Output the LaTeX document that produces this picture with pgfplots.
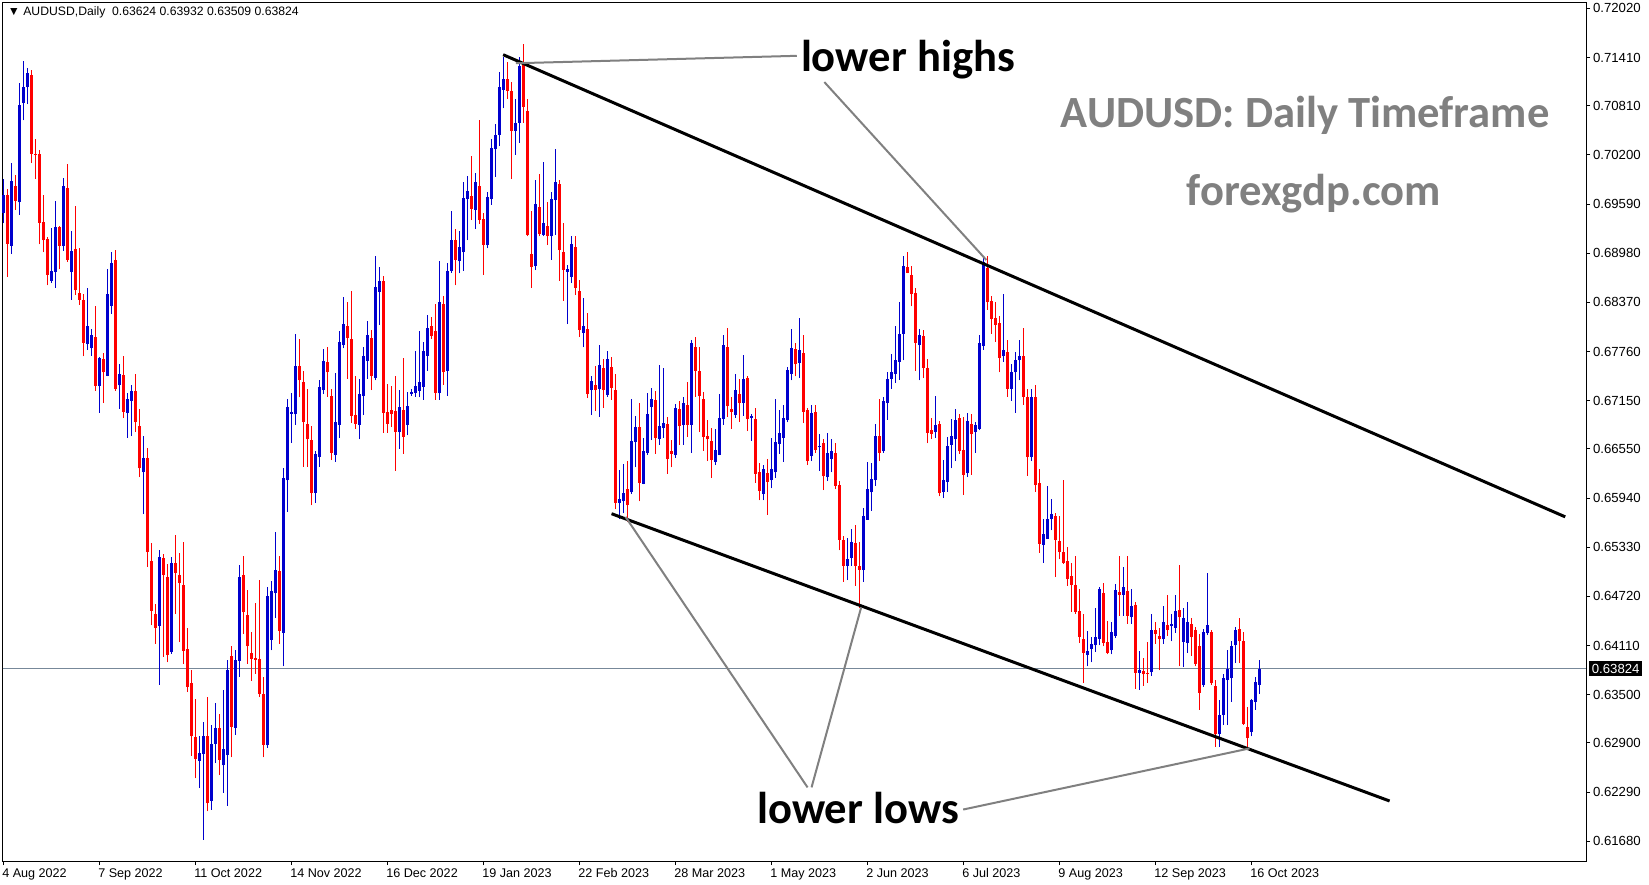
\documentclass[border=0pt]{standalone}
\usepackage{pgfplots}
\pgfplotsset{compat=1.18}
\usepackage{pgfplotstable}
\usepackage{fontspec}
\setmainfont{Liberation Sans}
\newfontfamily\carlito{Carlito}
\definecolor{bull}{RGB}{0,0,205}
\definecolor{bear}{RGB}{255,0,0}
\definecolor{pline}{RGB}{119,136,153}
\definecolor{note}{RGB}{128,128,128}

% daily candles: bar index, open, high, low, close
\pgfplotstableread{
k o h l c
0 0.6948 0.6990 0.6935 0.6970
1 0.6970 0.6978 0.6869 0.6910
2 0.6907 0.7010 0.6897 0.6988
3 0.6981 0.6995 0.6952 0.6963
4 0.6961 0.7109 0.6946 0.7082
5 0.7085 0.7137 0.7063 0.7104
6 0.7104 0.7128 0.7083 0.7122
7 0.7119 0.7125 0.7010 0.7021
8 0.7021 0.7040 0.6990 0.7020
9 0.7021 0.7026 0.6909 0.6936
10 0.6937 0.6970 0.6899 0.6914
11 0.6916 0.6918 0.6858 0.6871
12 0.6864 0.6929 0.6861 0.6876
13 0.6875 0.6963 0.6855 0.6930
14 0.6930 0.6932 0.6878 0.6907
15 0.6907 0.6991 0.6901 0.6981
16 0.6979 0.7009 0.6887 0.6890
17 0.6875 0.6925 0.6840 0.6901
18 0.6903 0.6957 0.6846 0.6852
19 0.6849 0.6904 0.6834 0.6840
20 0.6840 0.6847 0.6770 0.6787
21 0.6785 0.6855 0.6778 0.6808
22 0.6780 0.6804 0.6771 0.6797
23 0.6794 0.6832 0.6727 0.6733
24 0.6733 0.6769 0.6700 0.6768
25 0.6767 0.6774 0.6712 0.6750
26 0.6746 0.6878 0.6745 0.6847
27 0.6833 0.6900 0.6823 0.6886
28 0.6890 0.6902 0.6727 0.6730
29 0.6734 0.6760 0.6705 0.6748
30 0.6747 0.6770 0.6694 0.6701
31 0.6700 0.6724 0.6669 0.6717
32 0.6715 0.6734 0.6671 0.6727
33 0.6727 0.6748 0.6676 0.6688
34 0.6683 0.6705 0.6620 0.6631
35 0.6626 0.6671 0.6574 0.6644
36 0.6644 0.6656 0.6509 0.6527
37 0.6516 0.6538 0.6436 0.6454
38 0.6450 0.6463 0.6413 0.6433
39 0.6435 0.6530 0.6362 0.6521
40 0.6520 0.6524 0.6397 0.6499
41 0.6496 0.6512 0.6390 0.6399
42 0.6403 0.6521 0.6401 0.6514
43 0.6514 0.6548 0.6450 0.6501
44 0.6498 0.6526 0.6415 0.6489
45 0.6486 0.6540 0.6388 0.6404
46 0.6406 0.6433 0.6353 0.6360
47 0.6365 0.6381 0.6274 0.6298
48 0.6297 0.6345 0.6246 0.6270
49 0.6268 0.6298 0.6234 0.6277
50 0.6276 0.6316 0.6170 0.6298
51 0.6298 0.6347 0.6205 0.6215
52 0.6218 0.6312 0.6207 0.6289
53 0.6289 0.6340 0.6265 0.6309
54 0.6309 0.6326 0.6250 0.6269
55 0.6262 0.6356 0.6228 0.6283
56 0.6275 0.6393 0.6212 0.6380
57 0.6398 0.6410 0.6272 0.6310
58 0.6309 0.6405 0.6300 0.6393
59 0.6392 0.6511 0.6372 0.6496
60 0.6498 0.6522 0.6425 0.6452
61 0.6449 0.6480 0.6388 0.6410
62 0.6402 0.6428 0.6367 0.6394
63 0.6396 0.6464 0.6376 0.6393
64 0.6394 0.6492 0.6347 0.6351
65 0.6351 0.6372 0.6272 0.6288
66 0.6287 0.6483 0.6284 0.6473
67 0.6418 0.6491 0.6405 0.6479
68 0.6476 0.6552 0.6445 0.6505
69 0.6503 0.6522 0.6413 0.6429
70 0.6427 0.6631 0.6385 0.6619
71 0.6616 0.6717 0.6577 0.6707
72 0.6699 0.6725 0.6663 0.6701
73 0.6698 0.6798 0.6685 0.6758
74 0.6758 0.6792 0.6719 0.6740
75 0.6738 0.6752 0.6633 0.6688
76 0.6686 0.6730 0.6633 0.6667
77 0.6666 0.6684 0.6585 0.6600
78 0.6600 0.6652 0.6588 0.6649
79 0.6645 0.6740 0.6633 0.6732
80 0.6728 0.6779 0.6723 0.6764
81 0.6763 0.6782 0.6720 0.6750
82 0.6721 0.6730 0.6641 0.6650
83 0.6648 0.6749 0.6639 0.6688
84 0.6685 0.6802 0.6669 0.6788
85 0.6784 0.6844 0.6780 0.6810
86 0.6808 0.6837 0.6742 0.6793
87 0.6792 0.6851 0.6687 0.6696
88 0.6697 0.6745 0.6680 0.6686
89 0.6685 0.6742 0.6667 0.6723
90 0.6721 0.6782 0.6697 0.6770
91 0.6764 0.6814 0.6742 0.6796
92 0.6793 0.6803 0.6728 0.6746
93 0.6743 0.6894 0.6740 0.6856
94 0.6850 0.6881 0.6809 0.6863
95 0.6863 0.6870 0.6675 0.6700
96 0.6701 0.6736 0.6675 0.6686
97 0.6703 0.6733 0.6682 0.6698
98 0.6702 0.6745 0.6628 0.6676
99 0.6676 0.6728 0.6655 0.6707
100 0.6703 0.6768 0.6649 0.6670
101 0.6685 0.6726 0.6672 0.6708
102 0.6723 0.6730 0.6721 0.6726
103 0.6725 0.6777 0.6720 0.6733
104 0.6727 0.6801 0.6719 0.6738
105 0.6732 0.6788 0.6716 0.6777
106 0.6771 0.6821 0.6752 0.6805
107 0.6808 0.6819 0.6792 0.6795
108 0.6801 0.6835 0.6716 0.6725
109 0.6724 0.6888 0.6716 0.6838
110 0.6835 0.6845 0.6735 0.6750
111 0.6752 0.6886 0.6721 0.6876
112 0.6876 0.6950 0.6874 0.6914
113 0.6914 0.6928 0.6858 0.6890
114 0.6888 0.6926 0.6873 0.6906
115 0.6899 0.6986 0.6876 0.6967
116 0.6965 0.6994 0.6914 0.6975
117 0.6969 0.7019 0.6939 0.6953
118 0.6952 0.6998 0.6928 0.6986
119 0.6982 0.7064 0.6934 0.6939
120 0.6940 0.6948 0.6871 0.6908
121 0.6908 0.6974 0.6904 0.6968
122 0.6965 0.7040 0.6958 0.7029
123 0.7027 0.7059 0.6993 0.7045
124 0.7045 0.7123 0.7031 0.7104
125 0.7101 0.7142 0.7078 0.7114
126 0.7114 0.7136 0.7090 0.7100
127 0.7100 0.7110 0.6990 0.7050
128 0.7050 0.7090 0.7020 0.7060
129 0.7060 0.7142 0.7035 0.7130
130 0.7135 0.7158 0.7060 0.7080
131 0.7075 0.7090 0.6919 0.6921
132 0.6897 0.6950 0.6855 0.6881
133 0.6882 0.6989 0.6877 0.6959
134 0.6955 0.6996 0.6919 0.6922
135 0.6921 0.7011 0.6919 0.6935
136 0.6932 0.6961 0.6908 0.6919
137 0.6919 0.6974 0.6890 0.6965
138 0.6964 0.7028 0.6921 0.6986
139 0.6984 0.6989 0.6864 0.6902
140 0.6899 0.6935 0.6839 0.6877
141 0.6875 0.6884 0.6810 0.6878
142 0.6869 0.6920 0.6861 0.6909
143 0.6906 0.6920 0.6846 0.6855
144 0.6851 0.6865 0.6794 0.6803
145 0.6799 0.6843 0.6781 0.6808
146 0.6804 0.6824 0.6718 0.6723
147 0.6728 0.6745 0.6697 0.6739
148 0.6735 0.6758 0.6702 0.6728
149 0.6729 0.6784 0.6695 0.6759
150 0.6756 0.6767 0.6706 0.6728
151 0.6722 0.6776 0.6720 0.6767
152 0.6757 0.6769 0.6716 0.6731
153 0.6728 0.6748 0.6580 0.6588
154 0.6588 0.6629 0.6568 0.6593
155 0.6590 0.6636 0.6575 0.6600
156 0.6605 0.6640 0.6564 0.6585
157 0.6601 0.6717 0.6599 0.6665
158 0.6664 0.6696 0.6632 0.6682
159 0.6682 0.6712 0.6590 0.6613
160 0.6612 0.6669 0.6611 0.6652
161 0.6650 0.6725 0.6648 0.6698
162 0.6707 0.6731 0.6666 0.6717
163 0.6716 0.6727 0.6649 0.6669
164 0.6667 0.6759 0.6660 0.6683
165 0.6681 0.6755 0.6669 0.6687
166 0.6686 0.6695 0.6624 0.6642
167 0.6652 0.6666 0.6632 0.6649
168 0.6647 0.6711 0.6644 0.6706
169 0.6704 0.6714 0.6660 0.6683
170 0.6685 0.6719 0.6660 0.6712
171 0.6709 0.6738 0.6670 0.6685
172 0.6685 0.6790 0.6650 0.6787
173 0.6782 0.6794 0.6720 0.6752
174 0.6752 0.6781 0.6676 0.6721
175 0.6717 0.6726 0.6653 0.6670
176 0.6671 0.6691 0.6640 0.6667
177 0.6665 0.6681 0.6619 0.6641
178 0.6639 0.6680 0.6635 0.6654
179 0.6647 0.6723 0.6647 0.6694
180 0.6692 0.6796 0.6685 0.6784
181 0.6781 0.6805 0.6695 0.6708
182 0.6704 0.6720 0.6680 0.6701
183 0.6697 0.6748 0.6694 0.6728
184 0.6723 0.6742 0.6689 0.6712
185 0.6712 0.6772 0.6696 0.6742
186 0.6743 0.6746 0.6677 0.6692
187 0.6694 0.6698 0.6665 0.6695
188 0.6692 0.6706 0.6613 0.6624
189 0.6627 0.6638 0.6591 0.6603
190 0.6599 0.6635 0.6591 0.6630
191 0.6625 0.6642 0.6573 0.6614
192 0.6616 0.6668 0.6606 0.6630
193 0.6626 0.6717 0.6619 0.6664
194 0.6661 0.6703 0.6649 0.6675
195 0.6669 0.6710 0.6639 0.6694
196 0.6691 0.6757 0.6688 0.6753
197 0.6748 0.6804 0.6740 0.6780
198 0.6779 0.6787 0.6745 0.6760
199 0.6762 0.6818 0.6743 0.6778
200 0.6774 0.6796 0.6687 0.6701
201 0.6703 0.6706 0.6635 0.6640
202 0.6646 0.6709 0.6640 0.6700
203 0.6701 0.6709 0.6650 0.6654
204 0.6657 0.6673 0.6628 0.6659
205 0.6663 0.6667 0.6604 0.6621
206 0.6620 0.6675 0.6615 0.6650
207 0.6643 0.6667 0.6626 0.6652
208 0.6650 0.6663 0.6605 0.6609
209 0.6610 0.6615 0.6529 0.6542
210 0.6542 0.6547 0.6490 0.6510
211 0.6510 0.6545 0.6492 0.6518
212 0.6520 0.6555 0.6510 0.6540
213 0.6538 0.6560 0.6485 0.6510
214 0.6510 0.6539 0.6458 0.6505
215 0.6505 0.6582 0.6490 0.6572
216 0.6567 0.6639 0.6567 0.6605
217 0.6601 0.6638 0.6578 0.6618
218 0.6616 0.6686 0.6609 0.6671
219 0.6671 0.6717 0.6640 0.6650
220 0.6652 0.6719 0.6650 0.6714
221 0.6712 0.6750 0.6691 0.6742
222 0.6742 0.6773 0.6730 0.6750
223 0.6748 0.6808 0.6737 0.6765
224 0.6763 0.6837 0.6741 0.6798
225 0.6798 0.6894 0.6765 0.6882
226 0.6881 0.6899 0.6873 0.6874
227 0.6871 0.6882 0.6832 0.6847
228 0.6849 0.6855 0.6752 0.6787
229 0.6784 0.6804 0.6740 0.6796
230 0.6795 0.6803 0.6743 0.6756
231 0.6756 0.6767 0.6662 0.6675
232 0.6678 0.6693 0.6667 0.6674
233 0.6676 0.6721 0.6669 0.6685
234 0.6686 0.6690 0.6596 0.6600
235 0.6602 0.6641 0.6594 0.6617
236 0.6614 0.6670 0.6602 0.6659
237 0.6660 0.6692 0.6631 0.6671
238 0.6667 0.6705 0.6640 0.6691
239 0.6693 0.6699 0.6649 0.6652
240 0.6654 0.6695 0.6598 0.6623
241 0.6625 0.6700 0.6620 0.6690
242 0.6686 0.6699 0.6623 0.6673
243 0.6676 0.6688 0.6650 0.6685
244 0.6680 0.6796 0.6678 0.6787
245 0.6783 0.6895 0.6778 0.6887
246 0.6880 0.6894 0.6828 0.6837
247 0.6839 0.6845 0.6798 0.6816
248 0.6818 0.6837 0.6788 0.6809
249 0.6812 0.6820 0.6750 0.6768
250 0.6770 0.6847 0.6763 0.6778
251 0.6775 0.6790 0.6720 0.6730
252 0.6730 0.6760 0.6715 0.6750
253 0.6750 0.6775 0.6700 0.6765
254 0.6765 0.6790 0.6740 0.6770
255 0.6770 0.6805 0.6710 0.6720
256 0.6720 0.6730 0.6622 0.6645
257 0.6645 0.6730 0.6640 0.6720
258 0.6720 0.6735 0.6602 0.6610
259 0.6613 0.6630 0.6526 0.6537
260 0.6536 0.6568 0.6514 0.6550
261 0.6543 0.6609 0.6543 0.6568
262 0.6568 0.6593 0.6554 0.6574
263 0.6572 0.6576 0.6496 0.6542
264 0.6541 0.6572 0.6518 0.6527
265 0.6527 0.6616 0.6512 0.6514
266 0.6516 0.6533 0.6485 0.6493
267 0.6497 0.6513 0.6453 0.6486
268 0.6486 0.6522 0.6450 0.6453
269 0.6454 0.6481 0.6414 0.6422
270 0.6419 0.6450 0.6365 0.6402
271 0.6399 0.6429 0.6385 0.6404
272 0.6407 0.6422 0.6390 0.6413
273 0.6411 0.6457 0.6403 0.6422
274 0.6419 0.6483 0.6411 0.6481
275 0.6476 0.6488 0.6410 0.6414
276 0.6415 0.6442 0.6400 0.6402
277 0.6405 0.6440 0.6400 0.6428
278 0.6423 0.6487 0.6420 0.6480
279 0.6478 0.6522 0.6448 0.6474
280 0.6474 0.6509 0.6448 0.6483
281 0.6479 0.6522 0.6438 0.6448
282 0.6446 0.6481 0.6438 0.6460
283 0.6461 0.6465 0.6357 0.6377
284 0.6377 0.6404 0.6356 0.6381
285 0.6379 0.6396 0.6361 0.6375
286 0.6377 0.6415 0.6365 0.6376
287 0.6378 0.6450 0.6373 0.6430
288 0.6430 0.6440 0.6413 0.6425
289 0.6423 0.6433 0.6380 0.6419
290 0.6419 0.6460 0.6413 0.6440
291 0.6437 0.6474 0.6423 0.6430
292 0.6435 0.6450 0.6416 0.6438
293 0.6433 0.6474 0.6427 0.6454
294 0.6455 0.6511 0.6385 0.6446
295 0.6415 0.6458 0.6384 0.6445
296 0.6414 0.6465 0.6402 0.6440
297 0.6438 0.6445 0.6398 0.6421
298 0.6430 0.6434 0.6385 0.6388
299 0.6410 0.6425 0.6331 0.6352
300 0.6362 0.6432 0.6360 0.6428
301 0.6426 0.6501 0.6424 0.6436
302 0.6428 0.6430 0.6362 0.6364
303 0.6361 0.6368 0.6285 0.6301
304 0.6301 0.6343 0.6285 0.6325
305 0.6325 0.6376 0.6312 0.6370
306 0.6368 0.6405 0.6312 0.6382
307 0.6370 0.6416 0.6341 0.6410
308 0.6411 0.6434 0.6389 0.6430
309 0.6431 0.6445 0.6389 0.6416
310 0.6416 0.6428 0.6312 0.6314
311 0.6310 0.6335 0.6285 0.6296
312 0.6304 0.6344 0.6298 0.6343
313 0.6341 0.6372 0.6331 0.6366
314 0.63624 0.63932 0.63509 0.63824
}\candles

\begin{document}
\begin{tikzpicture}
\begin{axis}[
  scale only axis, width=791.75pt, height=429pt,
  xmin=-0.25, xmax=395.6, ymin=0.61434, ymax=0.72087,
  clip=false, scaled y ticks=false,
  axis line style={line width=0.5pt},
  tick align=outside, major tick length=2pt,
  tick style={black, line width=0.5pt},
  xtick pos=bottom, ytick pos=right, yticklabel pos=right,
  xtick={0,24,...,312},
  xticklabels={4 Aug 2022,7 Sep 2022,11 Oct 2022,14 Nov 2022,16 Dec 2022,19 Jan 2023,22 Feb 2023,28 Mar 2023,1 May 2023,2 Jun 2023,6 Jul 2023,9 Aug 2023,12 Sep 2023,16 Oct 2023},
  xticklabel style={font=\fontsize{6.3}{7}\selectfont, anchor=north west, inner sep=0pt, xshift=-0.8pt, yshift=-1.5pt},
  ytick={0.6168,0.6229,0.629,0.635,0.6411,0.6472,0.6533,0.6594,0.6655,0.6715,0.6776,0.6837,0.6898,0.6959,0.702,0.7081,0.7141,0.7202},
  yticklabels={0.61680,0.62290,0.62900,0.63500,0.64110,0.64720,0.65330,0.65940,0.66550,0.67150,0.67760,0.68370,0.68980,0.69590,0.70200,0.70810,0.71410,0.72020},
  yticklabel style={font=\fontsize{6.6}{7}\selectfont, anchor=west, inner sep=0pt, xshift=1.3pt},
  candle/.style={draw=none, mark=none, forget plot,
    error bars/y dir=plus, error bars/y explicit, error bars/error mark=none},
]
% price line
\addplot[pline, line width=0.5pt, forget plot] coordinates {(-0.25,0.63824) (395.6,0.63824)};

% bullish candles (close >= open)
\addplot[candle, restrict expr to domain={\thisrow{c}-\thisrow{o}}{0:1},
  error bars/error bar style={line width=0.5pt, draw=bull, solid}]
  table[x=k, y=l, y error expr=\thisrow{h}-\thisrow{l}] {\candles};
\addplot[candle, restrict expr to domain={\thisrow{c}-\thisrow{o}}{0:1},
  error bars/error bar style={line width=1.5pt, draw=bull, solid}]
  table[x=k, y=o, y error expr={max(\thisrow{c}-\thisrow{o},0.00013)}] {\candles};
% bearish candles
\addplot[candle, restrict expr to domain={\thisrow{c}-\thisrow{o}}{-1:-0.000001},
  error bars/error bar style={line width=0.5pt, draw=bear, solid}]
  table[x=k, y=l, y error expr=\thisrow{h}-\thisrow{l}] {\candles};
\addplot[candle, restrict expr to domain={\thisrow{c}-\thisrow{o}}{-1:-0.000001},
  error bars/error bar style={line width=1.5pt, draw=bear, solid}]
  table[x=k, y=c, y error expr={max(\thisrow{o}-\thisrow{c},0.00013)}] {\candles};

% trend channel
\addplot[black, line width=1.5pt] coordinates {(124.9,0.71445) (390.4,0.65707)};
\addplot[black, line width=1.5pt] coordinates {(152.0,0.65746) (346.5,0.62179)};
% pointer lines
\addplot[note, line width=1pt] coordinates {(128.1,0.71339) (198.3,0.71431)};
\addplot[note, line width=1pt] coordinates {(205.2,0.71105) (245.7,0.68896)};
\addplot[note, line width=1pt] coordinates {(155.5,0.65707) (201,0.62348)};
\addplot[note, line width=1pt] coordinates {(214.4,0.64583) (202,0.62348)};
\addplot[note, line width=1pt] coordinates {(311.5,0.62832) (239.9,0.62073)};

\node[font=\carlito\bfseries\fontsize{22.3}{26}\selectfont] at (axis cs:226.1,0.71379) {lower highs};
\node[font=\carlito\bfseries\fontsize{22.3}{26}\selectfont, text=note] at (axis cs:325.4,0.70686) {AUDUSD: Daily Timeframe};
\node[font=\carlito\bfseries\fontsize{22.3}{26}\selectfont, text=note] at (axis cs:327.6,0.69719) {forexgdp.com};
\node[font=\carlito\bfseries\fontsize{22.3}{26}\selectfont] at (axis cs:213.6,0.62087) {lower lows};

\node[anchor=west, inner sep=0pt, font=\fontsize{6.1}{7}\selectfont] at (axis cs:1,0.71968) {▼ AUDUSD,Daily\ \ 0.63624 0.63932 0.63509 0.63824};
\node[anchor=west, fill=black, text=white, inner xsep=1.2pt, inner ysep=1.5pt, font=\fontsize{6.6}{7}\selectfont, xshift=1.5pt] at (axis cs:395.6,0.63824) {0.63824};
\end{axis}
\pgfresetboundingbox
\path (-1.25pt,-11.5pt) rectangle (823.25pt,430.5pt);
\end{tikzpicture}
\end{document}
